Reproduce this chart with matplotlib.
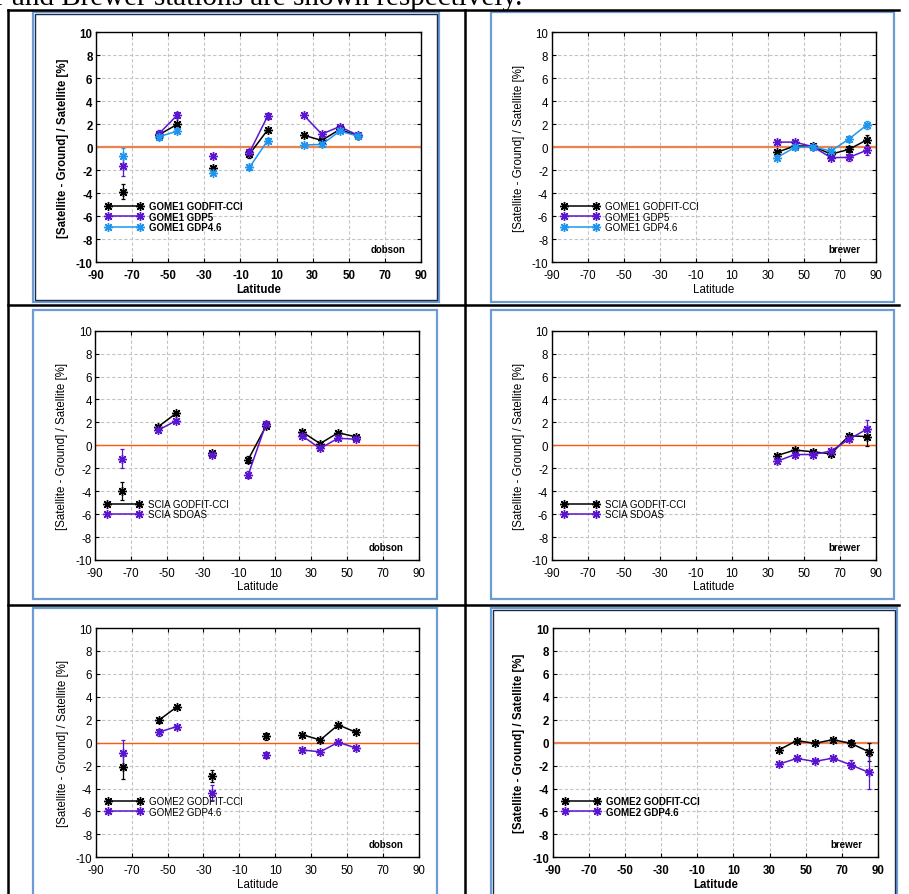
import numpy as np
import matplotlib
matplotlib.use("Agg")
import matplotlib.pyplot as plt
from matplotlib.lines import Line2D
from matplotlib.patches import Rectangle

W, H = 909, 895
plt.rcParams['font.family'] = ['Liberation Sans', 'DejaVu Sans']
plt.rcParams['axes.unicode_minus'] = False

# ── Data ──────────────────────────────────────────────────────────────
lat_dob = [-75, -55, -45, -25, -5, 5, 25, 35, 45, 55]
lat_dob_g2 = [-75, -55, -45, -25, 5, 25, 35, 45, 55]
lat_brw = [35, 45, 55, 65, 75, 85]

# GOME1 vs dobson
g1d_godfit = [-3.85, 1.1, 2.0, -1.8, -0.6, 1.5, 1.05, 0.6, 1.55, 1.0]
g1d_godfit_err = [0.65, 0.25, 0.15, 0.15, 0.3, 0.2, 0.1, 0.1, 0.1, 0.1]
g1d_gdp5 = [-1.6, 1.2, 2.8, -0.75, -0.45, 2.7, 2.8, 1.15, 1.8, 1.05]
g1d_gdp5_err = [0.9, 0.3, 0.25, 0.2, 0.3, 0.25, 0.1, 0.15, 0.1, 0.1]
g1d_gdp46 = [-0.75, 0.93, 1.4, -2.2, -1.75, 0.58, 0.2, 0.25, 1.4, 0.98]
g1d_gdp46_err = [0.7, 0.3, 0.15, 0.15, 0.2, 0.2, 0.1, 0.1, 0.1, 0.1]

# GOME1 vs brewer
g1b_godfit = [-0.44, 0.12, 0.1, -0.6, -0.18, 0.65]
g1b_godfit_err = [0.1, 0.15, 0.1, 0.15, 0.25, 0.45]
g1b_gdp5 = [0.45, 0.45, 0.05, -0.9, -0.88, -0.25]
g1b_gdp5_err = [0.1, 0.1, 0.1, 0.15, 0.3, 0.4]
g1b_gdp46 = [-0.9, 0.0, 0.05, -0.33, 0.72, 1.95]
g1b_gdp46_err = [0.15, 0.1, 0.1, 0.15, 0.3, 0.35]

# SCIA vs dobson
scd_godfit = [-4.0, 1.63, 2.8, -0.7, -1.25, 1.7, 1.18, 0.15, 1.1, 0.74]
scd_godfit_err = [0.8, 0.15, 0.15, 0.15, 0.3, 0.15, 0.15, 0.1, 0.1, 0.1]
scd_sdoas = [-1.15, 1.33, 2.15, -0.8, -2.57, 1.9, 0.83, -0.27, 0.62, 0.53]
scd_sdoas_err = [0.8, 0.15, 0.15, 0.15, 0.3, 0.2, 0.1, 0.15, 0.1, 0.1]

# SCIA vs brewer
scb_godfit = [-0.89, -0.41, -0.56, -0.74, 0.83, 0.77]
scb_godfit_err = [0.15, 0.15, 0.15, 0.15, 0.15, 0.8]
scb_sdoas = [-1.39, -0.8, -0.8, -0.5, 0.53, 1.42]
scb_sdoas_err = [0.15, 0.15, 0.15, 0.15, 0.15, 0.75]

# GOME2 vs dobson
g2d_godfit = [-2.1, 1.94, 3.1, -2.9, 0.56, 0.7, 0.23, 1.55, 0.9]
g2d_godfit_err = [1.05, 0.25, 0.1, 0.55, 0.3, 0.1, 0.1, 0.1, 0.1]
g2d_gdp46 = [-0.9, 0.9, 1.4, -4.37, -1.08, -0.64, -0.8, 0.03, -0.47]
g2d_gdp46_err = [1.1, 0.3, 0.1, 0.65, 0.3, 0.1, 0.1, 0.1, 0.1]

# GOME2 vs brewer
g2b_godfit = [-0.65, 0.18, -0.06, 0.26, -0.06, -0.8]
g2b_godfit_err = [0.1, 0.1, 0.1, 0.1, 0.3, 0.8]
g2b_gdp46 = [-1.88, -1.38, -1.64, -1.35, -1.94, -2.6]
g2b_gdp46_err = [0.1, 0.1, 0.1, 0.1, 0.4, 1.45]

BLACK, PURPLE, CYAN = "#000000", "#5b14cf", "#1e96f0"
FRAME_BLUE, FRAME_DARK = "#6d9bd4", "#1b2a48"


def fx(x):
    return x / W


def fy(y):
    return 1 - y / H


def broken(lat, vals):
    """Insert NaNs where latitude bins are missing so the line breaks."""
    lat = np.asarray(lat, float)
    vals = np.asarray(vals, float)
    idx = np.where(np.diff(lat) > 10)[0] + 1
    return np.insert(lat, idx, np.nan), np.insert(vals, idx, np.nan)


fig = plt.figure(figsize=(W / 100, H / 100), dpi=100)

# ── Page text and table lines ─────────────────────────────────────────
fig.text(fx(-5), fy(5), "r and Brewer stations are shown respectively.",
         family=['Liberation Serif', 'DejaVu Serif'], fontsize=21,
         ha='left', va='baseline')

for (x0, y0, x1, y1) in [(8, 10.5, 899, 10.5), (8, 10.5, 8, 895),
                         (464.5, 10.5, 464.5, 895), (8, 306, 899, 306),
                         (8, 606, 899, 606)]:
    fig.add_artist(Line2D([fx(x0), fx(x1)], [fy(y0), fy(y1)],
                          color='black', lw=1.8, transform=fig.transFigure))


def frame(l, t, r, b, dark=False):
    fig.add_artist(Rectangle((fx(l), fy(b)), (r - l) / W, (b - t) / H,
                             fill=False, ec=FRAME_BLUE, lw=1.6,
                             transform=fig.transFigure))
    if dark:
        fig.add_artist(Rectangle((fx(l + 2), fy(b - 2)), (r - l - 4) / W,
                                 (b - t - 4) / H, fill=False, ec=FRAME_DARK,
                                 lw=1.0, transform=fig.transFigure))


frame(33, 13, 439, 303, dark=True)
frame(491, 13, 894, 303)
frame(33, 311, 437, 600)
frame(491, 311, 894, 600)
frame(33, 609, 437, 905)
frame(491, 609, 897, 905, dark=True)


def panel(box, lat, series, station, bold, zero_color, zero_lw):
    l, t, r, b = box
    ax = fig.add_axes([fx(l), fy(b), (r - l) / W, (b - t) / H])
    weight = 'bold' if bold else 'normal'
    ax.set_xlim(-90, 90)
    ax.set_ylim(-10, 10)
    ax.set_xticks(np.arange(-90, 91, 20))
    ax.set_yticks(np.arange(-10, 11, 2))
    ax.grid(True, color='#c4c4c4', linestyle=(0, (3, 2)), linewidth=0.8)
    ax.set_axisbelow(True)
    ax.tick_params(direction='in', top=True, right=True, length=3,
                   width=0.8, labelsize=8.3)
    ax.tick_params(axis='x', pad=5)
    ax.tick_params(axis='y', pad=2.5)
    for lab in ax.get_xticklabels() + ax.get_yticklabels():
        lab.set_fontweight(weight)
    for sp in ax.spines.values():
        sp.set_linewidth(1.0)
    ax.axhline(0, color=zero_color, lw=zero_lw, zorder=2)

    handles = []
    for name, vals, err, color in series:
        ax.errorbar(lat, vals, yerr=err, fmt='none', ecolor=color,
                    elinewidth=0.9, capsize=1.5, capthick=0.9, zorder=3)
        x, y = broken(lat, vals)
        h, = ax.plot(x, y, color=color, lw=1.1, marker=(8, 2, 0), ms=6.5,
                     mew=1.0, label=name, zorder=4)
        handles.append(h)

    ax.legend(handles=handles, loc='upper left',
              bbox_to_anchor=(0.028, 0.266), numpoints=2, frameon=False,
              handlelength=3.9, handletextpad=0.6, labelspacing=0.05,
              borderpad=0, borderaxespad=0,
              prop={'size': 7, 'weight': weight})
    ax.text(0.952, 0.058, station, transform=ax.transAxes, ha='right',
            va='center', fontsize=7, fontweight='bold')
    ax.set_xlabel("Latitude", fontsize=8.3, fontweight=weight, labelpad=1)
    ax.set_ylabel("[Satellite - Ground] / Satellite [%]", fontsize=8.3,
                  fontweight=weight, labelpad=5)
    return ax


soft_orange, bright_orange = "#e9834f", "#ff5a0a"

panel((96, 33.3, 421, 263.3), lat_dob,
      [("GOME1 GODFIT-CCI", g1d_godfit, g1d_godfit_err, BLACK),
       ("GOME1 GDP5", g1d_gdp5, g1d_gdp5_err, PURPLE),
       ("GOME1 GDP4.6", g1d_gdp46, g1d_gdp46_err, CYAN)],
      "dobson", True, soft_orange, 1.6)

panel((551.7, 33.3, 876, 263.3), lat_brw,
      [("GOME1 GODFIT-CCI", g1b_godfit, g1b_godfit_err, BLACK),
       ("GOME1 GDP5", g1b_gdp5, g1b_gdp5_err, PURPLE),
       ("GOME1 GDP4.6", g1b_gdp46, g1b_gdp46_err, CYAN)],
      "brewer", False, soft_orange, 1.6)

panel((95.3, 331.7, 419, 561), lat_dob,
      [("SCIA GODFIT-CCI", scd_godfit, scd_godfit_err, BLACK),
       ("SCIA SDOAS", scd_sdoas, scd_sdoas_err, PURPLE)],
      "dobson", False, bright_orange, 1.0)

panel((551.7, 331.7, 876, 561), lat_brw,
      [("SCIA GODFIT-CCI", scb_godfit, scb_godfit_err, BLACK),
       ("SCIA SDOAS", scb_sdoas, scb_sdoas_err, PURPLE)],
      "brewer", False, bright_orange, 1.0)

panel((95.7, 629, 419, 858.3), lat_dob_g2,
      [("GOME2 GODFIT-CCI", g2d_godfit, g2d_godfit_err, BLACK),
       ("GOME2 GDP4.6", g2d_gdp46, g2d_gdp46_err, PURPLE)],
      "dobson", False, bright_orange, 1.0)

panel((552.7, 629, 878, 858.3), lat_brw,
      [("GOME2 GODFIT-CCI", g2b_godfit, g2b_godfit_err, BLACK),
       ("GOME2 GDP4.6", g2b_gdp46, g2b_gdp46_err, PURPLE)],
      "brewer", True, soft_orange, 1.6)

fig.savefig("out.png", dpi=100)
